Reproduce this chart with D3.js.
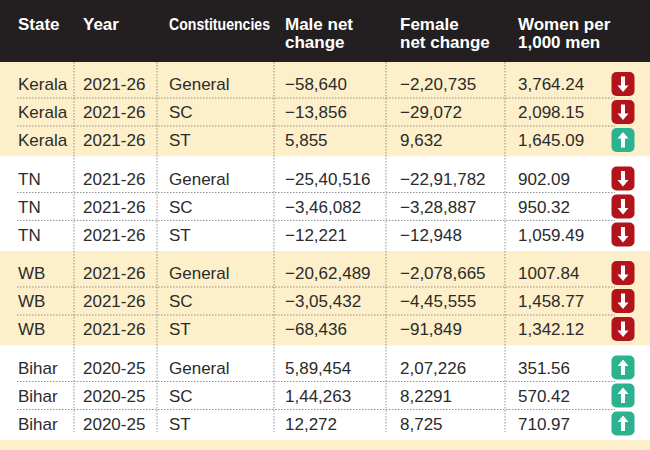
<!DOCTYPE html>
<html>
<head>
<meta charset="utf-8">
<script src="https://cdn.jsdelivr.net/npm/d3@7"></script>
<style>
  html, body { margin: 0; padding: 0; background: #fff; }
  svg { display: block; font-family: "Liberation Sans", Arial, sans-serif; }
</style>
</head>
<body>
<div id="chart"></div>
<script>
// Table: voter roll net change by state / constituency type

const W = 650, H = 450;
const HEAD_H = 62;

const states = ['Kerala', 'Kerala', 'Kerala', 'TN', 'TN', 'TN', 'WB', 'WB', 'WB', 'Bihar', 'Bihar', 'Bihar'];
const years = ['2021-26', '2021-26', '2021-26', '2021-26', '2021-26', '2021-26',
               '2021-26', '2021-26', '2021-26', '2020-25', '2020-25', '2020-25'];
const constituencies = ['General', 'SC', 'ST', 'General', 'SC', 'ST', 'General', 'SC', 'ST', 'General', 'SC', 'ST'];
const maleChange = ['−58,640', '−13,856', '5,855', '−25,40,516', '−3,46,082', '−12,221',
                    '−20,62,489', '−3,05,432', '−68,436', '5,89,454', '1,44,263', '12,272'];
const femaleChange = ['−2,20,735', '−29,072', '9,632', '−22,91,782', '−3,28,887', '−12,948',
                      '−2,078,665', '−4,45,555', '−91,849', '2,07,226', '8,2291', '8,725'];
const womenPer1000 = ['3,764.24', '2,098.15', '1,645.09', '902.09', '950.32', '1,059.49',
                      '1007.84', '1,458.77', '1,342.12', '351.56', '570.42', '710.97'];
const trend = ['down', 'down', 'up', 'down', 'down', 'down', 'down', 'down', 'down', 'up', 'up', 'up'];

const headers = [['State'], ['Year'], ['Constituencies'], ['Male net', 'change'], ['Female', 'net change'], ['Women per', '1,000 men']];

const groups = ['Kerala', 'TN', 'WB', 'Bihar'];
const rowKinds = ['General', 'SC', 'ST'];

// column text x and divider x
const COL_X = [18, 83, 169, 285, 400, 518];
const DIV_X = [74, 157, 274, 386, 505];

const C = {
  head: '#231f20', band: '#fcefc9', ink: '#2b2b2b', rule: '#7a7a7a',
  down: '#b3141c', up: '#2cb28f'
};

const rows = states.map((s, i) => ({
  state: s, year: years[i], cons: constituencies[i],
  male: maleChange[i], female: femaleChange[i], ratio: womenPer1000[i], trend: trend[i]
}));

const svg = d3.select('#chart').append('svg').attr('width', W).attr('height', H);

const gy = d3.scaleBand().domain(groups).range([HEAD_H, 440]);
const ry = d3.scaleBand().domain(rowKinds).range([8, 92]);
const rowY = d => gy(d.state) + ry(d.cons) + ry.bandwidth() / 2;

// group bands (alternating yellow/white) + yellow strip at bottom
svg.append('g').selectAll('rect').data(groups).join('rect')
  .attr('x', 0).attr('width', W)
  .attr('y', d => gy(d)).attr('height', gy.step())
  .attr('fill', (d, i) => i % 2 === 0 ? C.band : '#fff');
svg.append('rect').attr('x', 0).attr('width', W)
  .attr('y', gy.range()[1]).attr('height', H - gy.range()[1]).attr('fill', C.band);

// header
svg.append('rect').attr('x', 0).attr('y', 0).attr('width', W).attr('height', HEAD_H).attr('fill', C.head);
const hd = svg.append('g').selectAll('text').data(headers).join('text')
  .attr('x', (d, i) => COL_X[i]).attr('y', 30)
  .attr('fill', '#fff').attr('font-weight', 'bold').attr('font-size', 17);
hd.each(function (d, i) {
  const t = d3.select(this);
  d.forEach((line, k) => {
    t.append('tspan').attr('x', COL_X[i]).attr('dy', k === 0 ? 0 : 18).text(line);
  });
  if (d[0] === 'Constituencies') {
    // condensed face in the original
    t.attr('font-size', 16.5).select('tspan').attr('textLength', 101).attr('lengthAdjust', 'spacingAndGlyphs');
  }
});

// vertical dotted dividers
svg.append('g').selectAll('line').data(DIV_X).join('line')
  .attr('x1', d => d).attr('x2', d => d)
  .attr('y1', HEAD_H).attr('y2', 432)
  .attr('stroke', C.rule).attr('stroke-width', 0.8).attr('stroke-dasharray', '1.5 1.5');

// horizontal dotted separators within each group
const seps = [];
groups.forEach(g => rowKinds.slice(1).forEach(k => seps.push(gy(g) + ry(k))));
svg.append('g').selectAll('line').data(seps).join('line')
  .attr('x1', 17).attr('x2', 615)
  .attr('y1', d => d).attr('y2', d => d)
  .attr('stroke', C.rule).attr('stroke-width', 0.8).attr('stroke-dasharray', '1.5 1.5');

// cells
const fields = ['state', 'year', 'cons', 'male', 'female', 'ratio'];
const rowG = svg.append('g').selectAll('g').data(rows).join('g')
  .attr('transform', d => `translate(0,${rowY(d)})`);
fields.forEach((f, i) => {
  rowG.append('text')
    .attr('x', COL_X[i]).attr('y', 6)
    .attr('font-size', 17).attr('fill', C.ink)
    .text(d => d[f]);
});

// trend icons
const icon = rowG.append('g').attr('transform', 'translate(623,0)');
icon.append('rect')
  .attr('x', -11.5).attr('y', -12).attr('width', 23).attr('height', 24).attr('rx', 5)
  .attr('fill', d => d.trend === 'up' ? C.up : C.down);
icon.append('path')
  .attr('fill', '#fff')
  .attr('d', d => d.trend === 'up'
    ? 'M0,-8 L5.5,-1.5 L2,-1.5 L2,7.5 L-2,7.5 L-2,-1.5 L-5.5,-1.5 Z'
    : 'M0,8 L5.5,1.5 L2,1.5 L2,-7.5 L-2,-7.5 L-2,1.5 L-5.5,1.5 Z');
</script>
</body>
</html>
